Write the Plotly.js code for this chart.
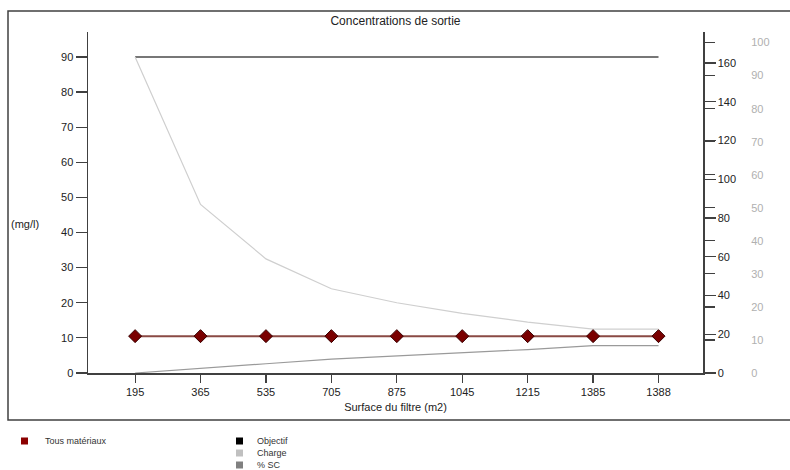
<!DOCTYPE html>
<html>
<head>
<meta charset="utf-8">
<script src="https://cdn.plot.ly/plotly-3.0.1.min.js"></script>
<style>html,body{margin:0;padding:0;background:#fff;}#chart{width:790px;height:470px;}</style>
</head>
<body>
<div id="chart"></div>
<script>
// ---- data ----
const categories = ['195', '365', '535', '705', '875', '1045', '1215', '1385', '1388'];
const tousMateriaux = [10.5, 10.5, 10.5, 10.5, 10.5, 10.5, 10.5, 10.5, 10.5];
const objectif = [90, 90, 90, 90, 90, 90, 90, 90, 90];
const charge = [90, 48, 32.5, 24, 20, 17, 14.5, 12.5, 12.5];
const pctSC = [0, 1.5, 2.8, 4.2, 5.1, 6.1, 7.1, 8.3, 8.3];   // on the grey (%) right axis

const leftTicks = [0, 10, 20, 30, 40, 50, 60, 70, 80, 90];
const rightTicks = [0, 20, 40, 60, 80, 100, 120, 140, 160];
const pctTicks = [0, 10, 20, 30, 40, 50, 60, 70, 80, 90, 100];

const baseFont = {family: 'Liberation Sans, Arial, sans-serif', size: 11, color: '#222'};
const legendFont = {family: 'Liberation Sans, Arial, sans-serif', size: 9, color: '#333'};

const traces = [
  // empty trace only so that the black right-hand axis is created
  {x: [], y: [], type: 'scatter', mode: 'lines', yaxis: 'y2', showlegend: false, hoverinfo: 'skip'},
  {x: categories, y: objectif, type: 'scatter', mode: 'lines', name: 'Objectif',
   line: {color: '#4a4a4a', width: 1.5}, showlegend: false},
  {x: categories, y: charge, type: 'scatter', mode: 'lines', name: 'Charge',
   line: {color: '#cfcfcf', width: 1.2}, showlegend: false},
  {x: categories, y: pctSC, type: 'scatter', mode: 'lines', name: '% SC', yaxis: 'y3',
   line: {color: '#9a9a9a', width: 1.2}, showlegend: false},
  {x: categories, y: tousMateriaux, type: 'scatter', mode: 'lines+markers', name: 'Tous matériaux',
   line: {color: '#8a4a44', width: 2},
   marker: {symbol: 'diamond', size: 10, color: '#7a0000', line: {color: '#3a0000', width: 1}},
   showlegend: false}
];

const legRows = [441, 453, 465];  // pixel rows of the legend entries

function pyr(px) { return (373 - px) / 341; }
function pxr(px) { return (px - 88) / 615; }

const layout = {
  width: 790, height: 470,
  margin: {l: 88, r: 87, t: 32, b: 97},
  paper_bgcolor: '#fff', plot_bgcolor: '#fff',
  font: baseFont,
  showlegend: false,
  title: {text: 'Concentrations de sortie', font: {family: 'Liberation Sans, Arial, sans-serif', size: 12, color: '#222'},
          x: 0.5, xref: 'paper', y: 1 - 21 / 470, yref: 'container', yanchor: 'middle'},
  xaxis: {type: 'category', range: [-0.72, 8.68], showgrid: false, zeroline: false,
          showline: true, linecolor: '#404040', linewidth: 1.5,
          ticks: 'outside', ticklen: 8, tickcolor: '#404040', tickwidth: 1.2,
          tickfont: baseFont,
          title: {text: 'Surface du filtre (m2)', font: baseFont, standoff: 6}},
  yaxis: {range: [0, 97.1], showgrid: false, zeroline: false,
          showline: true, linecolor: '#404040', linewidth: 1.5,
          ticks: 'outside', ticklen: 11, tickcolor: '#404040', tickwidth: 1.2,
          tickmode: 'array', tickvals: leftTicks, tickfont: baseFont},
  yaxis2: {overlaying: 'y', side: 'right', anchor: 'x', range: [0, 176],
           showgrid: false, zeroline: false, showline: true, linecolor: '#404040', linewidth: 1.5,
           ticks: 'outside', ticklen: 11, tickcolor: '#404040', tickwidth: 1.2,
           tickmode: 'array', tickvals: rightTicks, tickfont: baseFont},
  yaxis3: {overlaying: 'y', side: 'right', anchor: 'x', range: [0, 103.2],
           showgrid: false, zeroline: false, showline: false,
           ticks: 'outside', ticklen: 11, tickcolor: '#404040', tickwidth: 1.2,
           tickmode: 'array', tickvals: pctTicks,
           tickfont: {family: 'Liberation Sans, Arial, sans-serif', size: 11, color: '#b0b0b0'},
           ticklabelstandoff: 34},
  shapes: [
    {type: 'rect', xref: 'paper', yref: 'paper',
     x0: pxr(8), x1: pxr(800), y0: pyr(420), y1: pyr(11),
     line: {color: '#404040', width: 1.5}, fillcolor: 'rgba(0,0,0,0)', layer: 'below'},
    // legend swatches
    {type: 'rect', xref: 'paper', yref: 'paper',
     x0: pxr(21), x1: pxr(28), y0: pyr(legRows[0] + 3.5), y1: pyr(legRows[0] - 3.5),
     fillcolor: '#8b0000', line: {width: 0}},
    {type: 'rect', xref: 'paper', yref: 'paper',
     x0: pxr(236), x1: pxr(243), y0: pyr(legRows[0] + 3.5), y1: pyr(legRows[0] - 3.5),
     fillcolor: '#000000', line: {width: 0}},
    {type: 'rect', xref: 'paper', yref: 'paper',
     x0: pxr(236), x1: pxr(243), y0: pyr(legRows[1] + 3.5), y1: pyr(legRows[1] - 3.5),
     fillcolor: '#c0c0c0', line: {width: 0}},
    {type: 'rect', xref: 'paper', yref: 'paper',
     x0: pxr(236), x1: pxr(243), y0: pyr(legRows[2] + 3.5), y1: pyr(legRows[2] - 3.5),
     fillcolor: '#808080', line: {width: 0}}
  ],
  annotations: [
    {text: '(mg/l)', xref: 'paper', yref: 'paper', x: pxr(9), y: pyr(224),
     xanchor: 'left', yanchor: 'middle', showarrow: false, font: baseFont},
    {text: 'Tous matériaux', xref: 'paper', yref: 'paper', x: pxr(44), y: pyr(legRows[0]),
     xanchor: 'left', yanchor: 'middle', showarrow: false, font: legendFont, borderpad: 0},
    {text: 'Objectif', xref: 'paper', yref: 'paper', x: pxr(256), y: pyr(legRows[0]),
     xanchor: 'left', yanchor: 'middle', showarrow: false, font: legendFont, borderpad: 0},
    {text: 'Charge', xref: 'paper', yref: 'paper', x: pxr(256), y: pyr(legRows[1]),
     xanchor: 'left', yanchor: 'middle', showarrow: false, font: legendFont, borderpad: 0},
    {text: '% SC', xref: 'paper', yref: 'paper', x: pxr(256), y: pyr(legRows[2]),
     xanchor: 'left', yanchor: 'middle', showarrow: false, font: legendFont, borderpad: 0}
  ]
};

Plotly.newPlot('chart', traces, layout, {staticPlot: true, displayModeBar: false});
</script>
</body>
</html>
